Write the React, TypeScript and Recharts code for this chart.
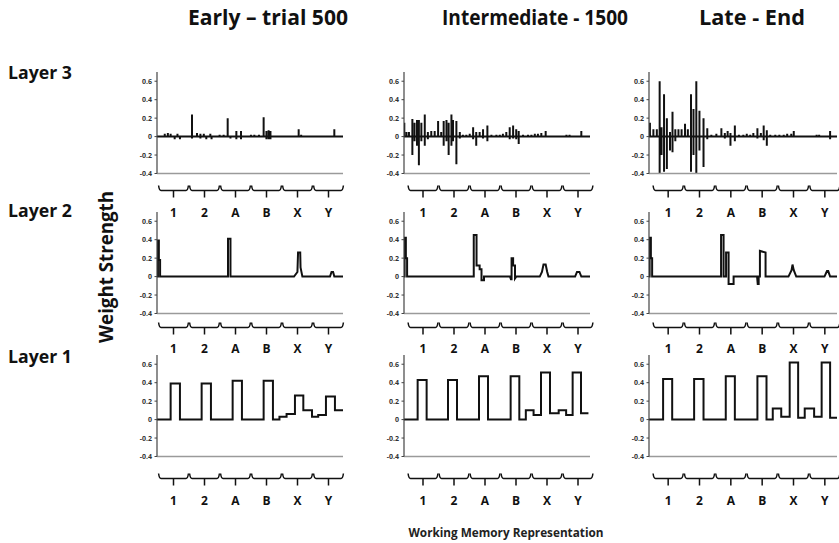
import React from 'react';
import { LineChart, Line, XAxis, YAxis } from 'recharts';

// ---------- text ----------
const COLUMN_TITLES = ['Early – trial 500', 'Intermediate - 1500', 'Late - End'];
const ROW_TITLES = ['Layer 3', 'Layer 2', 'Layer 1'];
const GROUP_LABELS = ['1', '2', 'A', 'B', 'X', 'Y'];
const GROUP_CENTERS = [0.5, 1.5, 2.5, 3.5, 4.5, 5.5];
const Y_TICKS = [-0.4, -0.2, 0, 0.2, 0.4, 0.6];
const Y_AXIS_LABEL = 'Weight Strength';
const X_AXIS_LABEL = 'Working Memory Representation';

// ---------- Layer 3: spikes [x (group units), up, down] ----------
const L3_EARLY: number[][] = [
  [0.25, 0.03, 0], [0.35, 0.04, 0], [0.44, 0.03, 0], [0.57, 0, -0.03], [0.66, 0.03, 0], [0.74, 0, -0.03],
  [1.13, 0.24, -0.02], [1.29, 0.04, 0], [1.4, 0.03, -0.02], [1.51, 0.03, 0], [1.59, 0, -0.03], [1.72, 0.03, 0], [1.76, 0, -0.03],
  [2.02, 0.02, 0], [2.15, 0.02, 0], [2.28, 0.2, 0], [2.37, 0, -0.02], [2.56, 0.06, -0.03], [2.71, 0.06, -0.03],
  [3.03, 0.02, 0], [3.14, 0.02, 0], [3.29, 0.02, 0], [3.44, 0.21, 0], [3.53, 0.06, -0.03], [3.6, 0.07, -0.03], [3.66, 0.06, -0.03],
  [4.06, 0.01, 0], [4.17, 0.01, 0], [4.3, 0.01, 0], [4.41, 0.01, 0], [4.57, 0.08, -0.01], [4.65, 0.02, 0],
  [5.05, 0.01, 0], [5.18, 0.01, 0], [5.32, 0.01, 0], [5.45, 0.01, 0], [5.72, 0.08, -0.01], [5.81, 0.01, 0],
];
const L3_MID: number[][] = [
  [0.01, 0.15, 0], [0.08, 0.05, 0], [0.16, 0.05, 0], [0.27, 0.19, -0.2], [0.34, 0.15, -0.05], [0.42, 0.18, -0.1],
  [0.48, 0.18, -0.31], [0.56, 0.15, -0.05], [0.67, 0.24, -0.1], [0.77, 0.05, -0.03], [0.88, 0.06, 0], [0.99, 0.06, 0],
  [1.1, 0.17, 0], [1.2, 0.05, 0], [1.28, 0.17, -0.1], [1.37, 0.18, -0.05], [1.44, 0.15, -0.2], [1.53, 0.24, -0.1],
  [1.58, 0.18, -0.05], [1.69, 0.17, -0.3], [1.8, 0.05, -0.02], [1.9, 0.02, 0],
  [2.01, 0.02, 0], [2.12, 0.03, 0], [2.23, 0.1, -0.03], [2.33, 0.05, -0.1], [2.44, 0.05, 0], [2.55, 0.08, -0.02], [2.69, 0.12, -0.05], [2.82, 0.02, 0],
  [2.98, 0.02, 0], [3.09, 0.02, 0], [3.19, 0.03, 0], [3.3, 0.05, 0], [3.41, 0.1, -0.03], [3.52, 0.12, -0.02], [3.62, 0.08, -0.03], [3.7, 0.06, -0.08], [3.84, 0.02, 0],
  [4.0, 0.02, 0], [4.11, 0.02, 0], [4.22, 0.03, 0], [4.32, 0.03, 0], [4.43, 0.04, 0], [4.57, 0.06, 0], [4.7, 0.01, 0], [4.91, 0.01, 0],
  [5.08, 0.01, 0], [5.24, 0.02, 0], [5.34, 0.02, 0], [5.45, 0.01, 0], [5.72, 0.06, 0], [5.83, 0.01, 0], [5.94, 0.01, 0],
];
const L3_LATE: number[][] = [
  [0.03, 0.15, 0], [0.14, 0.08, 0], [0.25, 0.08, 0], [0.34, 0.6, -0.4], [0.4, 0.1, -0.2], [0.48, 0.46, -0.38],
  [0.57, 0.2, -0.35], [0.67, 0.05, -0.15], [0.75, 0.27, -0.17], [0.84, 0.08, -0.05], [0.94, 0.08, 0],
  [1.04, 0.08, 0], [1.15, 0.14, 0], [1.24, 0.08, 0], [1.34, 0.46, -0.38], [1.42, 0.3, -0.2], [1.51, 0.6, -0.4],
  [1.61, 0.28, -0.15], [1.74, 0.2, -0.33], [1.86, 0.09, -0.03], [1.99, 0.02, 0],
  [2.15, 0.03, 0], [2.31, 0.09, 0], [2.42, 0.04, -0.02], [2.51, 0.06, 0], [2.6, 0.04, -0.1], [2.74, 0.12, -0.05], [2.87, 0.02, 0],
  [3.01, 0.02, 0], [3.12, 0.03, 0], [3.23, 0.02, 0], [3.33, 0.04, 0], [3.46, 0.09, -0.02], [3.57, 0.04, 0], [3.66, 0.12, -0.04], [3.76, 0.07, -0.1], [3.87, 0.02, 0],
  [4.03, 0.02, 0], [4.16, 0.02, 0], [4.3, 0.02, 0], [4.41, 0.03, 0], [4.54, 0.03, 0], [4.62, 0.06, 0], [4.78, 0.01, 0],
  [5.0, 0.01, 0], [5.22, 0.01, 0], [5.35, 0.02, 0], [5.43, 0.02, 0], [5.51, 0.01, 0], [5.78, 0.06, -0.03], [5.91, 0.01, 0],
];

// ---------- Layer 2: polyline [x, y] ----------
const L2_EARLY: number[][] = [
  [0, 0], [0.03, 0], [0.03, 0.39], [0.06, 0.39], [0.06, 0.18], [0.1, 0.18], [0.1, 0],
  [2.29, 0], [2.29, 0.41], [2.37, 0.41], [2.37, 0],
  [4.42, 0], [4.53, 0.05], [4.55, 0.26], [4.62, 0.26], [4.63, 0.1], [4.69, 0],
  [5.58, 0], [5.63, 0.05], [5.68, 0.05], [5.72, 0], [6, 0],
];
const L2_MID: number[][] = [
  [0, 0], [0.02, 0], [0.02, 0.42], [0.06, 0.42], [0.06, 0.2], [0.1, 0.2], [0.1, 0],
  [2.25, 0], [2.25, 0.45], [2.34, 0.45], [2.34, 0.12], [2.44, 0.12], [2.44, 0.08], [2.5, 0.08], [2.5, -0.04], [2.58, -0.04], [2.58, 0],
  [3.42, 0], [3.45, -0.03], [3.47, -0.03], [3.47, 0.2], [3.52, 0.2], [3.52, 0.12], [3.58, 0.12], [3.58, -0.02], [3.62, 0],
  [4.38, 0], [4.45, 0.05], [4.5, 0.13], [4.57, 0.13], [4.62, 0.05], [4.66, 0],
  [5.52, 0], [5.58, 0.05], [5.66, 0.05], [5.72, 0], [6, 0],
];
const L2_LATE: number[][] = [
  [0, 0], [0.02, 0], [0.02, 0.42], [0.06, 0.42], [0.06, 0.2], [0.1, 0.2], [0.1, 0],
  [2.3, 0], [2.3, 0.45], [2.38, 0.45], [2.38, 0], [2.46, 0], [2.46, 0.26], [2.54, 0.26], [2.54, -0.08], [2.7, -0.08], [2.7, 0],
  [3.45, 0], [3.47, -0.08], [3.5, -0.08], [3.5, 0], [3.54, 0], [3.54, 0.28], [3.72, 0.26], [3.72, 0],
  [4.45, 0], [4.55, 0.07], [4.58, 0.13], [4.62, 0.07], [4.7, 0],
  [5.6, 0], [5.68, 0.06], [5.72, 0.06], [5.78, 0], [6, 0],
];

// ---------- Layer 1: step breakpoints [x, y] ----------
const L1_EARLY: number[][] = [
  [0, 0], [0.44, 0.39], [0.74, 0], [1.44, 0.39], [1.74, 0], [2.44, 0.42], [2.74, 0], [3.44, 0.42], [3.74, 0],
  [3.95, 0.03], [4.18, 0.06], [4.45, 0.26], [4.72, 0.1], [5.0, 0.03], [5.2, 0.05], [5.45, 0.25], [5.74, 0.1], [6.0, 0.1],
];
const L1_MID: number[][] = [
  [0, 0], [0.44, 0.43], [0.73, 0], [1.42, 0.43], [1.71, 0], [2.42, 0.47], [2.71, 0], [3.44, 0.47], [3.72, 0],
  [3.93, 0.1], [4.18, 0.05], [4.42, 0.51], [4.71, 0.07], [4.99, 0.1], [5.23, 0.05], [5.44, 0.51], [5.71, 0.07], [5.95, 0.07],
];
const L1_LATE: number[][] = [
  [0, 0], [0.45, 0.44], [0.74, 0], [1.44, 0.44], [1.74, 0], [2.45, 0.47], [2.74, 0], [3.46, 0.47], [3.75, 0],
  [3.95, 0.12], [4.22, 0.03], [4.49, 0.62], [4.76, 0.02], [4.97, 0.12], [5.27, 0.03], [5.51, 0.62], [5.78, 0.02], [6.0, 0.02],
];

// ---------- layout (styles / geometry) ----------
const COL_X = [157, 404.3, 648.5];
const COL_W = [186, 186, 188];
const BRACE_DX = [1, 3.5, 3.5];
const ROW_TOP = [72, 212.3, 354.5];
const PLOT_H = 101.5;
const BRACE_DY = [17, 14, 22];
const LABEL_DY = [39, 35, 44];
const Y_AXIS_W = 30;
const M_TOP = 4;
const M_RIGHT = 4;
const X_AXIS_H = 56;
const FONT = '"Open Sans", "Noto Sans", sans-serif';

const toPoints = (pairs: number[][]) => pairs.map(([x, y]) => ({ x, y }));
const spikesToPoints = (spikes: number[][]) => {
  const pts: { x: number; y: number }[] = [{ x: 0, y: 0 }];
  spikes.forEach(([x, up, down]) => {
    pts.push({ x, y: 0 }, { x, y: up }, { x, y: down }, { x, y: 0 });
  });
  pts.push({ x: 6, y: 0 });
  return pts;
};

const PANELS = [
  [
    { data: spikesToPoints(L3_EARLY), type: 'linear' },
    { data: spikesToPoints(L3_MID), type: 'linear' },
    { data: spikesToPoints(L3_LATE), type: 'linear' },
  ],
  [
    { data: toPoints(L2_EARLY), type: 'linear' },
    { data: toPoints(L2_MID), type: 'linear' },
    { data: toPoints(L2_LATE), type: 'linear' },
  ],
  [
    { data: toPoints(L1_EARLY), type: 'stepAfter' },
    { data: toPoints(L1_MID), type: 'stepAfter' },
    { data: toPoints(L1_LATE), type: 'stepAfter' },
  ],
];

function BraceTick(props: any) {
  const { x, y, index, row, col } = props;
  const gw = COL_W[col] / 6;
  const cx = x + BRACE_DX[col];
  const h = gw / 2;
  const y0 = y + BRACE_DY[row];
  const L = cx - h;
  const R = cx + h;
  const d =
    `M${L + 0.6},${y0 - 5} Q${L + 1.2},${y0} ${L + 3},${y0} L${R - 3},${y0} Q${R - 1.2},${y0} ${R - 0.6},${y0 - 5}` +
    ` M${cx},${y0} L${cx},${y0 + 7}`;
  return (
    <g>
      <path d={d} fill="none" stroke="#111" strokeWidth={1.5} />
      <text
        x={cx}
        y={y + LABEL_DY[row] + 4.5}
        textAnchor="middle"
        fontFamily={FONT}
        fontWeight={700}
        fontSize={12}
        fill="#111"
      >
        {GROUP_LABELS[index]}
      </text>
    </g>
  );
}

function Panel({ row, col }: { row: number; col: number }) {
  const p = PANELS[row][col];
  const width = Y_AXIS_W + COL_W[col] + M_RIGHT;
  const height = M_TOP + PLOT_H + X_AXIS_H;
  return (
    <div style={{ position: 'absolute', left: COL_X[col] - Y_AXIS_W, top: ROW_TOP[row] - M_TOP }}>
      <LineChart width={width} height={height} data={p.data} margin={{ top: M_TOP, right: M_RIGHT, bottom: 0, left: 0 }}>
        <XAxis
          dataKey="x"
          type="number"
          domain={[0, 6]}
          ticks={GROUP_CENTERS}
          interval={0}
          allowDataOverflow
          height={X_AXIS_H}
          tickSize={0}
          tickMargin={0}
          tickLine={false}
          axisLine={{ stroke: '#9a9a9a', strokeWidth: 1.4 }}
          tick={(tp: any) => <BraceTick {...tp} row={row} col={col} />}
        />
        <YAxis
          type="number"
          domain={[-0.4, 0.7]}
          ticks={Y_TICKS}
          interval={0}
          allowDataOverflow
          width={Y_AXIS_W}
          tickSize={2.5}
          tickMargin={2.5}
          axisLine={{ stroke: '#444', strokeWidth: 1.2 }}
          tickLine={{ stroke: '#444', strokeWidth: 1 }}
          tickFormatter={(v: number) => (v === 0 ? '0' : v.toFixed(1))}
          tick={{ fontSize: 7, fontWeight: 700, fill: '#333', fontFamily: FONT }}
        />
        <Line
          dataKey="y"
          type={p.type as any}
          stroke="#111"
          strokeWidth={2}
          dot={false}
          activeDot={false}
          isAnimationActive={false}
        />
      </LineChart>
    </div>
  );
}

const TITLE_POS = [
  { x: 188, w: 160 },
  { x: 442, w: 186 },
  { x: 699, w: 106 },
];
const ROW_LABEL_Y = [79, 216.5, 363];

export default function App() {
  return (
    <div style={{ position: 'absolute', left: 0, top: 0, width: 839, height: 543, background: '#fff', overflow: 'hidden' }}>
      {[0, 1, 2].map((r) => [0, 1, 2].map((c) => <Panel key={`${r}-${c}`} row={r} col={c} />))}
      <svg width={839} height={543} style={{ position: 'absolute', left: 0, top: 0, pointerEvents: 'none' }}>
        {COLUMN_TITLES.map((t, i) => (
          <text
            key={t}
            x={TITLE_POS[i].x}
            y={25}
            fontFamily={FONT}
            fontWeight={700}
            fontSize={21}
            fill="#111"
            textLength={TITLE_POS[i].w}
            lengthAdjust="spacingAndGlyphs"
          >
            {t}
          </text>
        ))}
        {ROW_TITLES.map((t, i) => (
          <text
            key={t}
            x={8}
            y={ROW_LABEL_Y[i]}
            fontFamily={FONT}
            fontWeight={700}
            fontSize={18}
            fill="#111"
            textLength={64}
            lengthAdjust="spacingAndGlyphs"
          >
            {t}
          </text>
        ))}
        <text
          x={113}
          y={267}
          transform="rotate(-90 113 267)"
          textAnchor="middle"
          fontFamily={FONT}
          fontWeight={700}
          fontSize={19}
          fill="#111"
          textLength={152}
          lengthAdjust="spacingAndGlyphs"
        >
          {Y_AXIS_LABEL}
        </text>
        <text
          x={506}
          y={536.5}
          textAnchor="middle"
          fontFamily={FONT}
          fontWeight={700}
          fontSize={13}
          fill="#222"
          textLength={195}
          lengthAdjust="spacingAndGlyphs"
        >
          {X_AXIS_LABEL}
        </text>
      </svg>
    </div>
  );
}
